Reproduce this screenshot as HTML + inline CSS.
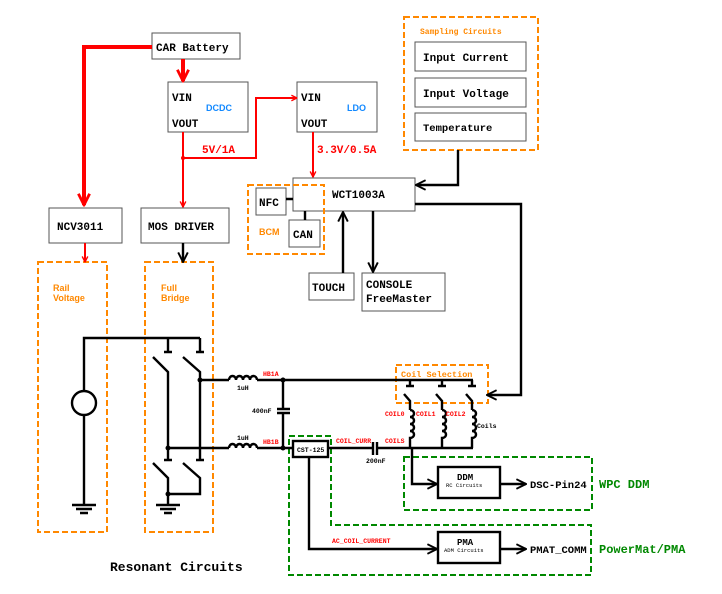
<!DOCTYPE html>
<html><head><meta charset="utf-8"><style>
html,body{margin:0;padding:0;background:#fff}
svg{display:block}
.m{font-family:"Liberation Mono",monospace;font-weight:bold}
.s{font-family:"Liberation Sans",sans-serif;font-weight:bold}
</style></head><body>
<svg width="722" height="594" viewBox="0 0 722 594" xmlns="http://www.w3.org/2000/svg">
<defs>
<marker id="ar" viewBox="0 0 10 10" refX="9" refY="5" markerWidth="7" markerHeight="7" orient="auto" markerUnits="userSpaceOnUse"><path d="M1,1 L9,5 L1,9" fill="none" stroke="#f00" stroke-width="2"/></marker>
<marker id="arb" viewBox="0 0 10 10" refX="9" refY="5" markerWidth="14" markerHeight="14" orient="auto" markerUnits="userSpaceOnUse"><path d="M1,1 L9,5 L1,9" fill="none" stroke="#f00" stroke-width="2"/></marker>
<marker id="ak" viewBox="0 0 10 10" refX="9" refY="5" markerWidth="12" markerHeight="12" orient="auto" markerUnits="userSpaceOnUse"><path d="M1,1 L9,5 L1,9" fill="none" stroke="#000" stroke-width="1.6"/></marker>
</defs>
<g fill="none" stroke="#555" stroke-width="1">
<rect x="152" y="33" width="88" height="26" fill="#fff"/>
<rect x="168" y="82" width="80" height="50"/>
<rect x="297" y="82" width="80" height="50"/>
<rect x="49" y="208" width="73" height="35"/>
<rect x="141" y="208" width="88" height="35"/>
<rect x="293" y="178" width="122" height="33"/>
<rect x="256" y="188" width="30" height="27"/>
<rect x="289" y="220" width="31" height="27"/>
<rect x="309" y="273" width="45" height="27"/>
<rect x="362" y="273" width="83" height="38"/>
<rect x="415" y="42" width="111" height="29"/>
<rect x="415" y="78" width="111" height="29"/>
<rect x="415" y="113" width="111" height="28"/>
</g>
<g fill="none" stroke="#f80" stroke-width="2" stroke-dasharray="6,3">
<rect x="38" y="262" width="69" height="270"/>
<rect x="145" y="262" width="68" height="270"/>
<rect x="248" y="185" width="76" height="69"/>
<rect x="404" y="17" width="134" height="133"/>
<rect x="396" y="365" width="92" height="38"/>
</g>
<g fill="none" stroke="#080" stroke-width="2" stroke-dasharray="6,3">
<rect x="404" y="457" width="188" height="53"/>
<path d="M289,436 H331 V525 H591 V575 H289 Z"/>
</g>
<!-- red power -->
<g fill="none" stroke="#f00">
<path d="M152,47 H84 V205" stroke-width="4" marker-end="url(#arb)"/>
<path d="M183,59 V81" stroke-width="4" marker-end="url(#arb)"/>
<path d="M183,132 V207" stroke-width="2" marker-end="url(#ar)"/>
<path d="M183,158 H256 V98 H297" stroke-width="2" marker-end="url(#ar)"/>
<path d="M313,132 V177" stroke-width="2" marker-end="url(#ar)"/>
<path d="M85,243 V262" stroke-width="2" marker-end="url(#ar)"/>
</g>
<!-- black connectors -->
<g fill="none" stroke="#000" stroke-width="2.4">
<path d="M183,243 V262" marker-end="url(#ak)"/>
<path d="M286,199 H293 M305,211 V220"/>
<path d="M343,273 V212" marker-end="url(#ak)"/>
<path d="M373,211 V272" marker-end="url(#ak)"/>
<path d="M458,150 V185 H416" marker-end="url(#ak)"/>
<path d="M415,204 H521 V395 H487" marker-end="url(#ak)"/>
<!-- rail -->
<path d="M200,338 H84 V391 M84,415 V505"/>
<circle cx="84" cy="403" r="12"/>
<path d="M72,505 H96 M76,509 H92 M80,513 H88"/>
<!-- full bridge -->
<path d="M168,338 V352 M164,352 H172 M200,338 V352 M196,352 H204"/>
<path d="M153,357 L168,372 V448 M183,357 L200,372 V448"/>
<path d="M164,460 H172 M196,460 H204 M168,448 V460 M200,448 V460"/>
<path d="M153,463 L168,478 V505 M183,463 L200,478 V494 H168"/>
<path d="M156,505 H180 M160,509 H176 M164,513 H172"/>
<path d="M200,380 H229 M257,380 H473 M168,448 H229 M257,448 H293"/>
<path d="M229,380 a3.5,4 0 0 1 7,0 a3.5,4 0 0 1 7,0 a3.5,4 0 0 1 7,0 a3.5,4 0 0 1 7,0"/>
<path d="M229,448 a3.5,4 0 0 1 7,0 a3.5,4 0 0 1 7,0 a3.5,4 0 0 1 7,0 a3.5,4 0 0 1 7,0"/>
<path d="M283,380 V409 M277,409 H290 M277,413 H290 M283,413 V448"/>
<rect x="293" y="441" width="35" height="16" fill="#fff"/>
<path d="M328,448 H373 M373,442 V455 M377,442 V455 M377,448 H473"/>
<!-- coil selection -->
<path d="M410,380 V386 M406,386 H414 M442,380 V386 M438,386 H446 M472,380 V386 M468,386 H476"/>
<path d="M404,394 L410,401 V410 M436,394 L442,401 V410 M466,394 L472,401 V410"/>
<path d="M410,410 a4,3.5 0 0 1 0,7 a4,3.5 0 0 1 0,7 a4,3.5 0 0 1 0,7 a4,3.5 0 0 1 0,7 V448"/>
<path d="M442,410 a4,3.5 0 0 1 0,7 a4,3.5 0 0 1 0,7 a4,3.5 0 0 1 0,7 a4,3.5 0 0 1 0,7 V448"/>
<path d="M472,410 a4,3.5 0 0 1 0,7 a4,3.5 0 0 1 0,7 a4,3.5 0 0 1 0,7 a4,3.5 0 0 1 0,7 V448"/>
<path d="M412,448 V484 H437" marker-end="url(#ak)"/>
<path d="M309,457 V549 H437" marker-end="url(#ak)"/>
<rect x="438" y="467" width="62" height="31" fill="#fff"/>
<rect x="438" y="532" width="62" height="31" fill="#fff"/>
<path d="M500,484 H526" marker-end="url(#ak)"/>
<path d="M500,549 H526" marker-end="url(#ak)"/>
</g>
<g fill="#000">
<circle cx="200" cy="380" r="2.5"/><circle cx="168" cy="448" r="2.5"/><circle cx="168" cy="494" r="2.5"/>
<circle cx="283" cy="380" r="2.5"/><circle cx="283" cy="448" r="2.5"/><circle cx="183" cy="158" r="2" fill="#f00"/>
</g>
<!-- text -->
<g class="m" font-size="11" fill="#000">
<text x="156" y="51">CAR Battery</text>
<text x="172" y="101">VIN</text><text x="172" y="127">VOUT</text>
<text x="301" y="101">VIN</text><text x="301" y="127">VOUT</text>
<text x="57" y="230">NCV3011</text>
<text x="148" y="230">MOS DRIVER</text>
<text x="332" y="198">WCT1003A</text>
<text x="259" y="206">NFC</text>
<text x="293" y="238">CAN</text>
<text x="312" y="291">TOUCH</text>
<text x="366" y="288">CONSOLE</text>
<text x="366" y="302">FreeMaster</text>
<text x="423" y="61">Input Current</text>
<text x="423" y="97">Input Voltage</text>
<text x="423" y="131" font-size="10.5">Temperature</text>
<text x="530" y="488" font-size="10.5">DSC-Pin24</text>
<text x="530" y="553" font-size="10.5">PMAT_COMM</text>
<text x="110" y="571" font-size="13">Resonant Circuits</text>
<text x="457" y="480" font-size="9">DDM</text>
<text x="457" y="545" font-size="9">PMA</text>
</g>
<g class="m" fill="#f00">
<text x="202" y="153" font-size="11">5V/1A</text>
<text x="317" y="153" font-size="11">3.3V/0.5A</text>
<text x="263" y="376" font-size="6.5">HB1A</text>
<text x="263" y="444" font-size="6.5">HB1B</text>
<text x="336" y="443" font-size="6.5">COIL_CURR</text>
<text x="385" y="443" font-size="6.5">COILS</text>
<text x="385" y="416" font-size="6.5">COIL0</text>
<text x="416" y="416" font-size="6.5">COIL1</text>
<text x="446" y="416" font-size="6.5">COIL2</text>
<text x="332" y="543" font-size="6.5">AC_COIL_CURRENT</text>
</g>
<g class="m" fill="#000" font-size="6.5">
<text x="237" y="390">1uH</text>
<text x="237" y="440">1uH</text>
<text x="252" y="413">400nF</text>
<text x="366" y="463">200nF</text>
<text x="477" y="428">Coils</text>
<text x="297" y="452">CST-125</text>
<text x="446" y="487" font-size="5.5" font-weight="normal">RC Circuits</text>
<text x="444" y="552" font-size="5.5" font-weight="normal">ADM Circuits</text>
</g>
<g class="s" fill="#f80" font-size="9" font-weight="normal">
<text x="53" y="291">Rail</text><text x="53" y="301">Voltage</text>
<text x="161" y="291">Full</text><text x="161" y="301">Bridge</text>
<text x="259" y="235">BCM</text>
</g>
<g class="m" fill="#f80" font-weight="normal">
<text x="420" y="34" font-size="8">Sampling Circuits</text>
<text x="401" y="377" font-size="8.5">Coil Selection</text>
</g>
<g class="s" fill="#18f" font-size="9" font-weight="normal">
<text x="206" y="111">DCDC</text><text x="347" y="111">LDO</text>
</g>
<g class="m" fill="#080" font-size="12">
<text x="599" y="488">WPC DDM</text>
<text x="599" y="553">PowerMat/PMA</text>
</g>
</svg>
</body></html>
